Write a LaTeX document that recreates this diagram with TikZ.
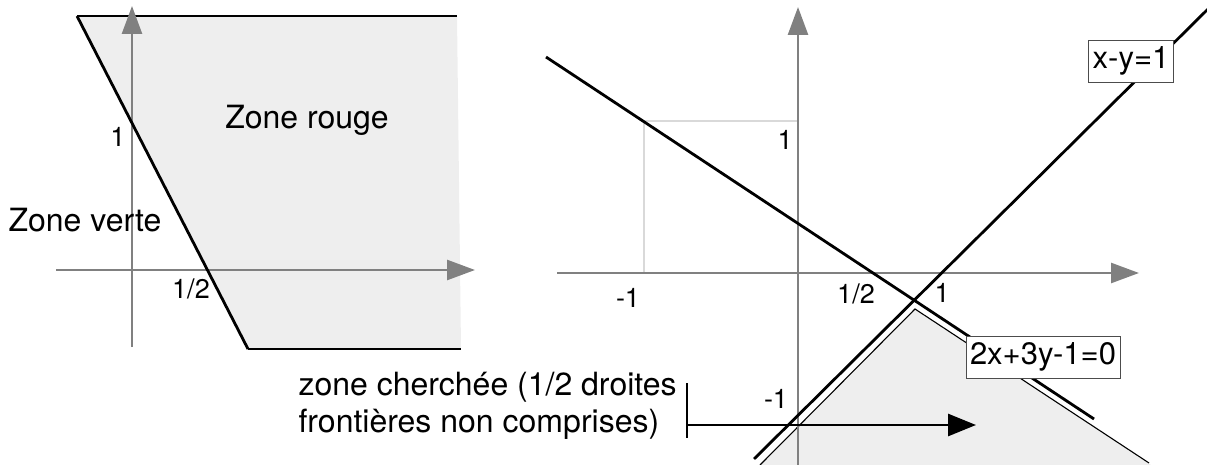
\documentclass[tikz,border=0pt]{standalone}
\usepackage{fontspec}
\setmainfont{TeX Gyre Heros}
\usetikzlibrary{arrows.meta}
\definecolor{axegris}{HTML}{808080}
\definecolor{zonegris}{HTML}{EEEEEE}
\definecolor{clairgris}{HTML}{D9D9D9}

\begin{document}
\begin{tikzpicture}[x=1pt, y=-1pt,
    axe/.style={draw=axegris, line width=2.6pt, -{Triangle[length=28pt,width=20pt]}},
    droite/.style={line width=2.8pt, black},
    bord/.style={line width=1.1pt, black},
    etiq/.style={font=\fontsize{27}{30}\selectfont, anchor=base},
    texte/.style={font=\fontsize{32}{37}\selectfont, anchor=base},
    cadre/.style={draw=black!70, fill=white, line width=0.9pt,
      font=\fontsize{31}{34}\selectfont, minimum height=42pt, inner xsep=4pt}]
  \useasboundingbox (0,0) rectangle (1207,465);

  % Zone rouge (left)
  \fill[zonegris] (77,16) -- (457,16) -- (461,349) -- (248,349) -- cycle;
  \draw[bord] (77,16) -- (457,16);
  \draw[bord] (248,349) -- (461,349);
  % Axes (left)
  \draw[axe] (56,270) -- (475,270);
  \draw[axe] (132,347) -- (132,6);
  % Droite 2x+y=1
  \draw[droite] (77,16) -- (248,349);
  \node[etiq] (un) at (118,147) {1};
  \node[etiq] (demi) at (191,298) {1/2};
  \node[texte] (rouge) at (307,129) {Zone rouge};
  \node[texte] (verte) at (85,232) {Zone verte};

  % Zone cherchee (right)
  \fill[zonegris] (915,309) -- (760,465) -- (1151,465) -- cycle;
  \draw[bord] (760,465) -- (915,309) -- (1149,463);
  % Repere (-1,1)
  \draw[clairgris, line width=2.4pt] (644,273) -- (644,121) -- (798,121);
  % Axes (right)
  \draw[axe] (557,273) -- (1139,273);
  \draw[axe] (798,465) -- (798,7);
  % Droites
  \draw[droite] (546,57) -- (1094,419);
  \draw[droite] (754,459) -- (1208,9);
  \node[cadre] (eqa) at (1131,61) {x-y=1};
  \node[cadre] (eqb) at (1043,357) {2x+3y-1=0};
  % Graduations
  \node[etiq] (moinsun) at (628,307) {-1};
  \node[etiq] (unb) at (785,150) {1};
  \node[etiq] (demib) at (856,303) {1/2};
  \node[etiq] (unc) at (942,302) {1};
  \node[etiq] (moinsunb) at (776,408) {-1};

  % Legende
  \node[texte, anchor=base west] (lega) at (295,395) {zone cherchée (1/2 droites};
  \node[texte, anchor=base west] (legb) at (295,432) {frontières non comprises)};
  \coordinate (barhaut) at (687,383);
  \coordinate (barbas) at (687,438);
  \coordinate (fleche) at (976,425);
  \draw[line width=2.4pt] (barhaut) -- (barbas);
  \draw[line width=2.8pt, -{Triangle[length=28pt,width=22pt]}] (barbas |- fleche) -- (fleche);
\end{tikzpicture}
\end{document}
